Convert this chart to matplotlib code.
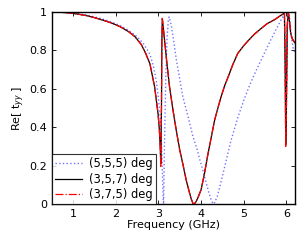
import matplotlib
matplotlib.use("Agg")
import matplotlib.pyplot as plt

# values
f_blue = [0.5, 0.7, 0.9, 1.1, 1.3, 1.5, 1.7, 1.9, 2.1, 2.3, 2.5, 2.65, 2.8, 2.88, 2.95,
          3.0, 3.04, 3.07, 3.09, 3.11, 3.12, 3.14, 3.17, 3.2, 3.23, 3.25, 3.3, 3.35, 3.42,
          3.5, 3.57, 3.7, 3.81, 3.9, 3.97, 4.05, 4.12, 4.18, 4.23, 4.28, 4.32, 4.38, 4.45,
          4.5, 4.57, 4.7, 4.86, 5.0, 5.14, 5.3, 5.45, 5.6, 5.76, 5.9, 5.95, 5.975, 5.99,
          6.005, 6.025, 6.05, 6.08, 6.12, 6.16, 6.2]
re_blue = [1.0, 0.999, 0.997, 0.992, 0.985, 0.975, 0.963, 0.948, 0.93, 0.905, 0.872, 0.835, 0.78, 0.72, 0.64,
           0.55, 0.45, 0.32, 0.18, 0.03, 0.0, 0.3, 0.65, 0.86, 0.955, 0.975, 0.93, 0.86, 0.75,
           0.65, 0.56, 0.45, 0.35, 0.29, 0.23, 0.17, 0.11, 0.06, 0.025, 0.0, 0.008, 0.04, 0.10,
           0.145, 0.21, 0.33, 0.45, 0.54, 0.62, 0.70, 0.77, 0.84, 0.91, 0.97, 0.99, 0.75, 0.35,
           0.55, 0.92, 1.0, 0.96, 0.87, 0.81, 0.79]

f_black = [0.5, 0.7, 0.9, 1.1, 1.3, 1.5, 1.7, 1.9, 2.1, 2.3, 2.45, 2.6, 2.7, 2.8, 2.91,
           2.99, 3.02, 3.04, 3.055, 3.07, 3.08, 3.09, 3.14, 3.19, 3.26, 3.34, 3.42, 3.5, 3.58,
           3.65, 3.72, 3.77, 3.81, 3.84, 3.88, 3.93, 4.0, 4.08, 4.16, 4.24, 4.32, 4.4, 4.47,
           4.55, 4.63, 4.75, 4.86, 5.0, 5.1, 5.25, 5.41, 5.55, 5.72, 5.85, 5.92, 5.955, 5.97,
           5.985, 6.0, 6.02, 6.045, 6.07, 6.1, 6.14, 6.2]
re_black = [1.0, 0.999, 0.996, 0.99, 0.982, 0.971, 0.958, 0.943, 0.924, 0.898, 0.872, 0.83, 0.785, 0.73, 0.61,
            0.47, 0.39, 0.30, 0.21, 0.5, 0.85, 0.967, 0.86, 0.75, 0.61, 0.49, 0.38, 0.28, 0.20,
            0.125, 0.065, 0.025, 0.003, 0.0, 0.012, 0.035, 0.075, 0.16, 0.26, 0.35, 0.44, 0.505, 0.56,
            0.615, 0.66, 0.73, 0.785, 0.825, 0.85, 0.885, 0.915, 0.94, 0.96, 0.98, 0.99, 0.995, 0.75,
            0.31, 0.5, 0.93, 1.0, 0.96, 0.89, 0.86, 0.84]

f_red = f_black
re_red = [1.0, 0.999, 0.996, 0.99, 0.982, 0.971, 0.958, 0.943, 0.924, 0.898, 0.871, 0.83, 0.785, 0.73, 0.61,
          0.47, 0.39, 0.30, 0.19, 0.5, 0.85, 0.967, 0.86, 0.75, 0.61, 0.49, 0.38, 0.28, 0.20,
          0.125, 0.065, 0.025, 0.003, 0.0, 0.012, 0.035, 0.075, 0.16, 0.26, 0.35, 0.44, 0.505, 0.56,
          0.615, 0.66, 0.73, 0.785, 0.825, 0.85, 0.885, 0.915, 0.94, 0.96, 0.98, 0.99, 0.995, 0.75,
          0.30, 0.5, 0.93, 1.0, 0.96, 0.89, 0.86, 0.84]

labels = ["(5,5,5) deg", "(3,5,7) deg", "(3,7,5) deg"]

plt.rcParams["font.family"] = "DejaVu Sans"
fig = plt.figure(figsize=(3.0, 2.42), dpi=100)
ax = fig.add_axes([0.173, 0.157, 0.81, 0.793])

ax.plot(f_blue, re_blue, ls=":", color=(0.45, 0.45, 1.0), lw=1.0, label=labels[0])
ax.plot(f_black, re_black, ls="-", color="black", lw=0.9, label=labels[1])
ax.plot(f_red, re_red, ls="-.", color="red", lw=0.9, label=labels[2])

ax.set_xlim(0.5, 6.2)
ax.set_ylim(0, 1)
ax.set_xticks([1, 2, 3, 4, 5, 6])
ax.set_yticks([0, 0.2, 0.4, 0.6, 0.8, 1])
ax.set_yticklabels(["0", "0.2", "0.4", "0.6", "0.8", "1"])
ax.tick_params(direction="in", top=True, right=True, labelsize=8, length=3, width=0.6)
for s in ax.spines.values():
    s.set_linewidth(1.0)

ax.set_xlabel("Frequency (GHz)", fontsize=8, labelpad=1)
ax.set_ylabel("Re[ t$_{yy}$ ]", fontsize=8, labelpad=2)

leg = ax.legend(loc="lower left", fontsize=8.3, frameon=True, fancybox=False,
                borderaxespad=0, handlelength=2.4, borderpad=0.25, labelspacing=0.22,
                handletextpad=0.6)
leg.get_frame().set_edgecolor("black")
leg.get_frame().set_linewidth(0.8)

fig.savefig("out.png", dpi=100)
